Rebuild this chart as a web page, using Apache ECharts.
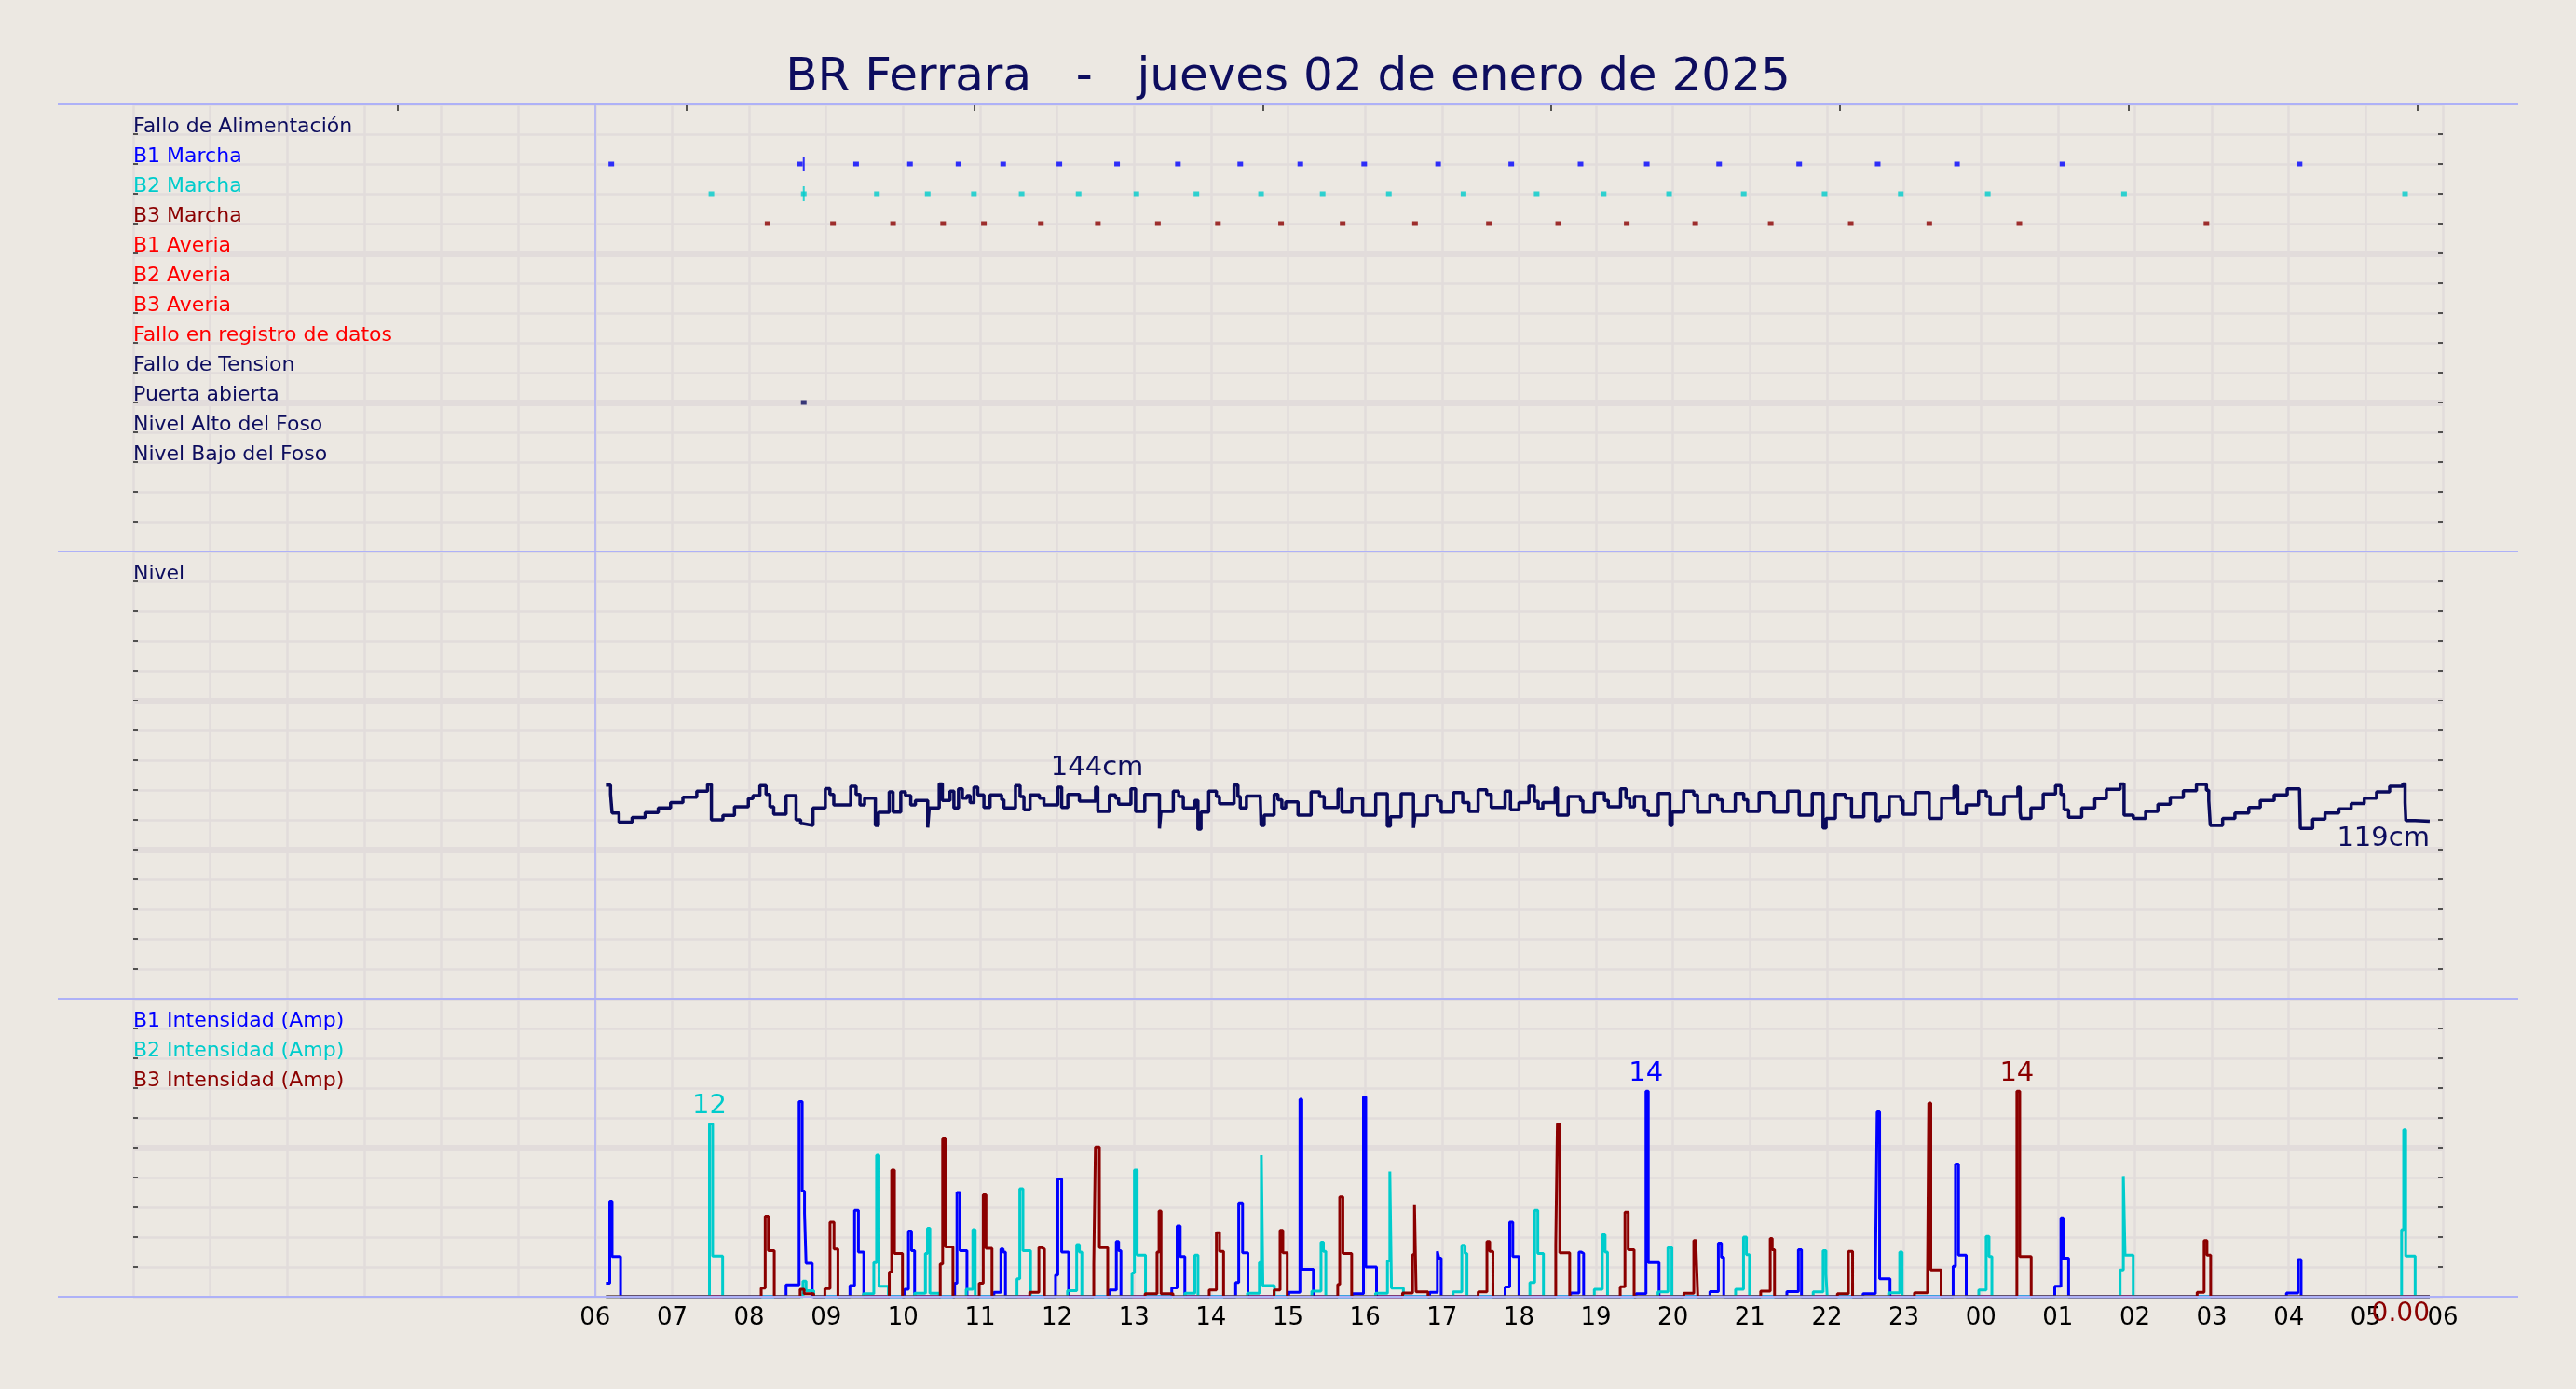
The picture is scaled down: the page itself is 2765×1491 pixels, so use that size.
<!DOCTYPE html>
<html>
<head>
<meta charset="utf-8">
<title>BR Ferrara</title>
<script src="https://cdn.jsdelivr.net/npm/echarts@6/dist/echarts.min.js"></script>
<style>
  html, body { margin: 0; padding: 0; background: #ece8e2; }
  #chart { width: 2765px; height: 1491px; }
</style>
</head>
<body>
<div id="chart"></div>
<script type="text/javascript">
// horas desde las 00:00 del dia 02
var dataStartHour = 6;
var hourLabels = ['06','07','08','09','10','11','12','13','14','15','16','17','18','19','20','21','22','23','00','01','02','03','04','05','06'];
var topTickHours = [3.43, 7.18, 10.93, 14.68, 18.42, 22.17, 25.92, 29.67];

var statusLabels = ['Fallo de Alimentación', 'B1 Marcha', 'B2 Marcha', 'B3 Marcha', 'B1 Averia', 'B2 Averia', 'B3 Averia',
  'Fallo en registro de datos', 'Fallo de Tension', 'Puerta abierta', 'Nivel Alto del Foso', 'Nivel Bajo del Foso'];
var statusColors = ['#0d0d5e', '#0000ff', '#00cccc', '#8b0000', '#ff0000', '#ff0000', '#ff0000',
  '#ff0000', '#0d0d5e', '#0d0d5e', '#0d0d5e', '#0d0d5e'];

var marchaB1 = [6.21, 8.66, 9.39, 10.09, 10.72, 11.30, 12.03, 12.78, 13.57, 14.38, 15.16, 15.99, 16.95, 17.90, 18.80, 19.66, 20.60, 21.64, 22.66, 23.69, 25.06, 28.14];
var marchaB2 = [7.51, 8.71, 9.66, 10.32, 10.92, 11.54, 12.28, 13.03, 13.81, 14.65, 15.45, 16.31, 17.28, 18.23, 19.10, 19.95, 20.92, 21.97, 22.96, 24.09, 25.86, 29.51];
var marchaB3 = [8.24, 9.09, 9.87, 10.52, 11.05, 11.79, 12.53, 13.31, 14.09, 14.91, 15.71, 16.65, 17.61, 18.51, 19.40, 20.29, 21.27, 22.31, 23.33, 24.50, 26.93];
var marchaCambio = [8.71];
var puertaAbierta = [8.71];

var nivelLabelHour = 12.52;
var nivel = [
  [6.14,143.3],[6.20,137.1],[6.22,124.6],[6.31,118.5],[6.48,121.5],[6.65,124.8],[6.82,127.9],[6.98,131.5],[7.14,135.2],[7.32,139.2],
  [7.46,143.8],[7.51,120.0],[7.66,122.9],[7.81,128.8],[7.99,134.2],[8.05,136.3],[8.14,142.9],[8.22,137.1],[8.27,128.8],[8.32,123.8],
  [8.48,136.3],[8.61,120.0],[8.67,117.5],[8.70,116.3],[8.83,127.9],[8.99,141.0],[9.05,137.1],[9.10,130.0],[9.32,142.5],[9.39,137.1],
  [9.44,130.0],[9.50,134.6],[9.64,116.3],[9.68,125.0],[9.82,138.8],[9.87,125.2],[9.97,138.8],[10.03,136.3],[10.10,130.0],[10.16,132.9],
  [10.32,114.8],[10.34,127.9],[10.47,144.0],[10.51,132.9],[10.61,139.2],[10.66,127.9],[10.72,140.8],[10.77,134.6],[10.83,136.3],[10.87,131.5],
  [10.92,141.9],[10.97,136.7],[11.05,128.3],[11.13,136.7],[11.28,133.5],[11.31,127.9],[11.46,142.9],[11.52,135.6],[11.57,126.7],[11.65,136.7],
  [11.77,134.6],[11.83,130.0],[12.01,141.9],[12.06,128.3],[12.14,137.1],[12.29,132.5],[12.50,141.9],[12.53,125.6],[12.68,136.7],[12.76,134.6],
  [12.80,130.4],[12.96,140.8],[13.02,125.6],[13.14,137.1],[13.33,114.2],[13.35,125.6],[13.51,139.2],[13.58,135.6],[13.64,127.9],[13.79,132.9],
  [13.83,113.8],[13.87,125.2],[13.97,139.2],[14.07,135.6],[14.11,130.8],[14.30,143.3],[14.35,135.6],[14.38,127.9],[14.46,136.0],[14.64,134.6],
  [14.65,116.3],[14.69,123.1],[14.82,137.1],[14.87,133.5],[14.92,127.9],[14.97,132.1],[15.13,123.1],[15.30,138.8],[15.41,135.6],[15.47,128.3],
  [15.65,140.4],[15.70,125.2],[15.83,134.6],[15.97,123.1],[16.14,137.5],[16.29,115.8],[16.33,122.1],[16.47,137.5],[16.63,114.6],[16.65,123.1],
  [16.81,136.3],[16.94,132.5],[16.99,125.2],[17.15,138.3],[17.27,131.5],[17.35,125.6],[17.47,140.2],[17.58,137.1],[17.64,128.3],[17.82,139.2],
  [17.89,126.7],[18.00,131.5],[18.13,142.5],[18.20,132.5],[18.25,127.3],[18.31,131.5],[18.47,141.3],[18.50,123.1],[18.64,135.6],[18.80,132.9],
  [18.83,125.2],[18.98,137.9],[19.11,132.9],[19.16,128.8],[19.32,140.8],[19.39,134.6],[19.44,128.8],[19.50,135.6],[19.63,126.3],[19.68,123.1],
  [19.81,137.7],[19.96,116.3],[19.99,125.2],[20.14,139.2],[20.27,136.7],[20.32,125.2],[20.48,136.7],[20.58,133.5],[20.64,125.6],[20.81,137.7],
  [20.92,133.5],[20.97,125.6],[21.12,138.3],[21.28,136.7],[21.31,125.2],[21.49,139.2],[21.64,123.1],[21.81,137.7],[21.95,114.5],[21.99,121.0],
  [22.11,137.1],[22.24,134.6],[22.32,122.1],[22.48,137.7],[22.64,119.6],[22.69,122.1],[22.81,135.6],[22.96,132.9],[22.99,123.8],[23.15,138.3],
  [23.33,121.0],[23.49,134.6],[23.65,142.5],[23.70,124.2],[23.81,130.0],[23.97,139.2],[24.07,135.6],[24.12,123.8],[24.30,135.6],[24.48,141.9],
  [24.51,125.2],[24.52,121.0],[24.65,127.9],[24.81,137.3],[24.97,142.9],[25.04,137.1],[25.08,126.7],[25.14,121.7],[25.31,127.9],[25.48,134.2],
  [25.63,140.4],[25.81,144.0],[25.86,123.1],[25.98,121.0],[26.14,125.6],[26.30,130.4],[26.46,135.0],[26.63,139.6],[26.80,143.8],[26.93,139.8],
  [26.96,132.9],[26.98,116.3],[27.14,121.0],[27.30,124.6],[27.48,128.3],[27.63,132.9],[27.81,136.7],[27.98,140.8],[28.14,138.8],[28.15,114.2],
  [28.31,120.4],[28.47,124.6],[28.65,127.3],[28.81,131.0],[28.98,134.6],[29.14,138.8],[29.31,142.5],[29.48,144.0],[29.51,131.5],[29.52,119.6],
  [29.64,119.0],[29.83,119.0]
];

var intensidadB1 = [
  [6.14,0.9],[6.19,6.4],[6.22,2.7],[6.33,0],
  [8.48,0.8],[8.65,13.1],[8.69,7.1],[8.72,5.6],[8.74,2.25],[8.82,0],
  [9.31,0.75],[9.37,5.8],[9.42,3.0],[9.49,0],
  [10.02,0.5],[10.07,4.4],[10.11,3.1],[10.15,0],
  [10.67,0.9],[10.70,7.0],[10.74,3.1],[10.83,0],
  [11.18,0.3],[11.27,3.2],[11.30,3.0],[11.33,0],
  [11.98,1.45],[12.01,7.9],[12.06,3.0],[12.15,0],
  [12.68,0.45],[12.77,3.7],[12.80,3.1],[12.83,0],
  [13.49,0.6],[13.56,4.75],[13.60,2.7],[13.66,0],
  [14.32,0.95],[14.36,6.3],[14.41,2.95],[14.48,0],
  [15.01,0.3],[15.155,13.25],[15.18,1.85],[15.33,0],
  [15.84,0.2],[15.98,13.4],[16.01,2.0],[16.15,0],
  [16.84,0.3],[16.94,3.05],[16.96,2.6],[16.99,0],
  [17.82,0.65],[17.88,5.0],[17.92,2.7],[18.0,0],
  [18.67,0.25],[18.78,3.0],[18.81,2.9],[18.84,0],
  [19.52,0.2],[19.65,13.8],[19.68,2.3],[19.82,0],
  [20.48,0.35],[20.59,3.6],[20.63,2.65],[20.66,0],
  [21.48,0.35],[21.63,3.15],[21.67,0],
  [22.47,0.2],[22.63,1.6],[22.653,12.4],[22.685,1.2],[22.82,0],
  [23.64,2.05],[23.67,8.9],[23.71,2.8],[23.81,0],
  [24.96,0.7],[25.04,5.3],[25.07,2.6],[25.14,0],
  [27.97,0.25],[28.12,2.5],[28.16,0],
  [29.83,0]
];
var intensidadB2 = [
  [6.14,0],
  [7.485,11.6],[7.526,2.73],[7.656,0],
  [8.70,1.05],[8.74,0.4],[8.84,0],
  [9.485,0.2],[9.62,2.3],[9.656,9.5],[9.687,0.7],[9.81,0],
  [10.15,0.23],[10.29,2.9],[10.317,4.6],[10.348,0.23],[10.47,0],
  [10.82,0.5],[10.906,4.5],[10.937,0],
  [11.48,1.2],[11.516,7.25],[11.557,3.1],[11.656,0],
  [12.136,0.4],[12.255,3.5],[12.29,3.0],[12.322,0],
  [12.974,1.6],[13.005,8.5],[13.041,2.8],[13.149,0],
  [13.661,0.23],[13.79,2.8],[13.831,0],
  [14.473,0.23],[14.628,2.3],[14.654,9.5],[14.674,0.75],[14.824,0],
  [15.31,0.37],[15.429,3.65],[15.46,3.05],[15.491,0],
  [16.137,0.23],[16.292,2.4],[16.323,8.4],[16.344,0.58],[16.499,0],
  [17.145,0.33],[17.258,3.45],[17.30,2.9],[17.325,0],
  [18.142,0.96],[18.204,5.8],[18.245,2.9],[18.318,0],
  [18.979,0.5],[19.083,4.15],[19.119,3.0],[19.15,0],
  [19.806,0.33],[19.935,3.3],[19.987,0],
  [20.814,0.5],[20.917,4.0],[20.955,2.83],[20.995,0],
  [21.822,0.33],[21.951,3.1],[21.988,1.5],[22.004,0],
  [22.802,0.27],[22.946,3.0],[22.978,0],
  [23.973,0.45],[24.069,4.05],[24.106,2.7],[24.143,0],
  [25.809,1.8],[25.851,8.1],[25.873,2.8],[25.979,0],
  [29.465,4.5],[29.492,11.2],[29.518,2.73],[29.641,0],
  [29.83,0]
];
var intensidadB3 = [
  [6.14,0],
  [8.157,0.58],[8.209,5.4],[8.25,3.1],[8.327,0],
  [8.663,0.5],[8.715,0.2],[8.839,0],
  [8.984,0.54],[9.051,5.0],[9.103,3.2],[9.154,0],
  [9.821,1.65],[9.852,8.5],[9.888,2.9],[9.992,0],
  [10.483,2.2],[10.514,10.6],[10.55,3.35],[10.648,0],
  [10.989,0.9],[11.041,6.85],[11.077,3.25],[11.155,0],
  [11.645,0.3],[11.764,3.3],[11.80,3.2],[11.837,0],
  [12.477,2.2],[12.498,10.05],[12.55,3.3],[12.658,0],
  [13.144,0.2],[13.299,3.0],[13.325,5.75],[13.351,0.2],[13.506,0],
  [13.977,0.45],[14.07,4.3],[14.111,3.05],[14.163,0],
  [14.819,0.45],[14.897,4.45],[14.933,2.95],[14.99,0],
  [15.646,0.83],[15.672,6.7],[15.713,2.9],[15.827,0],
  [16.488,0.25],[16.618,2.83],[16.643,6.2],[16.664,0.33],[16.819,0],
  [17.47,0.33],[17.584,3.7],[17.62,3.05],[17.662,0],
  [18.478,3.5],[18.499,11.6],[18.53,2.95],[18.659,0],
  [19.315,0.67],[19.377,5.67],[19.419,3.15],[19.496,0],
  [20.142,0.23],[20.271,3.77],[20.30,3.2],[20.323,0],
  [21.14,0.37],[21.264,3.9],[21.29,3.15],[21.32,0],
  [22.137,0.2],[22.28,3.05],[22.334,0],
  [23.137,0.27],[23.307,1.4],[23.323,13.0],[23.35,1.8],[23.483,0],
  [24.468,13.8],[24.505,2.7],[24.654,0],
  [26.809,0.3],[26.9,3.77],[26.937,2.8],[26.985,0],
  [29.83,0]
];

var navy = '#0d0d5e';
var gridColor = '#e2dcdb';
var sepColor = '#aeb1f7';
var font = 'DejaVu Sans';

function rowOf(name) { return 14 - statusLabels.indexOf(name); }
function onRow(hours, name) { return hours.map(function (h) { return [h, rowOf(name)]; }); }

var nivelMax = Math.max.apply(null, nivel.map(function (p) { return p[1]; }));
var nivelLast = nivel[nivel.length - 1];
var b3Last = intensidadB3[intensidadB3.length - 1];

var chart = echarts.init(document.getElementById('chart'));

function hourAxis(gridIndex, showLabels) {
  return {
    type: 'value', gridIndex: gridIndex, min: 0, max: 30, interval: 1, position: 'bottom',
    axisLine: {show: false, onZero: false}, axisTick: {show: false},
    axisLabel: showLabels ? {
      show: true, margin: 10, fontSize: 26, fontFamily: font, color: '#000', showMaxLabel: true,
      formatter: function (v) { return v >= dataStartHour ? hourLabels[v - dataStartHour] : ''; }
    } : {show: false},
    splitLine: {show: true, lineStyle: {color: gridColor, width: 2.5}}
  };
}

function leftAxis(gridIndex, max, interval, labelFn, colorFn) {
  return {
    type: 'value', gridIndex: gridIndex, min: 0, max: max, interval: interval, position: 'left',
    axisLine: {show: false, onZero: false},
    axisTick: {show: true, inside: true, length: 5, lineStyle: {color: '#222', width: 1.5}},
    axisLabel: {
      show: true, inside: true, margin: 0, fontSize: 22, fontFamily: font,
      verticalAlign: 'bottom', lineHeight: 15,
      formatter: labelFn, color: colorFn
    },
    splitLine: {show: true, lineStyle: {color: gridColor, width: 2.5}}
  };
}

function rightAxis(gridIndex, max, interval) {
  return {
    type: 'value', gridIndex: gridIndex, min: 0, max: max, interval: interval, position: 'right',
    axisLine: {show: false, onZero: false},
    axisTick: {show: true, inside: true, length: 5, lineStyle: {color: '#222', width: 1.5}},
    minorTick: {show: true, splitNumber: 5, length: 5, lineStyle: {color: '#222', width: 1.5}},
    axisLabel: {show: false},
    splitLine: {show: true, showMinLine: false, showMaxLine: false, lineStyle: {color: gridColor, width: 7}}
  };
}

var startLine = {
  silent: true, symbol: ['none', 'none'], label: {show: false},
  lineStyle: {color: sepColor, width: 1.5, type: 'solid'},
  data: [{xAxis: dataStartHour}]
};

function marcha(name, hours, color) {
  return {
    type: 'scatter', name: name, xAxisIndex: 0, yAxisIndex: 0,
    symbol: 'rect', symbolSize: [6, 5], itemStyle: {color: color},
    data: onRow(hours, name)
  };
}

function intensidad(name, data, color) {
  return {
    type: 'line', name: name, xAxisIndex: 3, yAxisIndex: 4, step: 'end',
    symbol: 'none', lineStyle: {color: color, width: 3}, itemStyle: {color: color},
    data: data,
    markPoint: {
      symbol: 'circle', symbolSize: 1, itemStyle: {color: 'transparent'},
      label: {show: true, position: 'top', distance: 4, fontSize: 29, fontFamily: font, color: color,
        formatter: function (p) { return Math.round(p.value); }},
      data: [{type: 'max'}]
    }
  };
}

var seps = [112, 592, 1072, 1392].map(function (y) {
  return {type: 'line', z: 100, shape: {x1: 62, y1: y, x2: 2703, y2: y}, style: {stroke: sepColor, lineWidth: 2}};
});

var option = {
  animation: false,
  backgroundColor: '#ece8e2',
  title: {
    text: 'BR Ferrara   -   jueves 02 de enero de 2025',
    left: 'center', top: 54,
    textStyle: {fontSize: 50, fontWeight: 'normal', fontFamily: font, color: navy}
  },
  grid: [
    {left: 143, right: 143, top: 112, height: 480},
    {left: 143, right: 143, top: 592, height: 480},
    {left: 143, right: 143, top: 1072, height: 320}
  ],
  xAxis: [
    hourAxis(0, false),
    {
      type: 'value', gridIndex: 0, min: 0, max: 30, position: 'top',
      axisLine: {show: false, onZero: false}, axisLabel: {show: false}, splitLine: {show: false},
      axisTick: {show: true, inside: true, length: 7, customValues: topTickHours, lineStyle: {color: '#222', width: 1.5}}
    },
    hourAxis(1, false),
    hourAxis(2, true)
  ],
  yAxis: [
    leftAxis(0, 15, 1,
      function (v) { return statusLabels[14 - v] || ''; },
      function (v) { return statusColors[14 - (+v)] || navy; }),
    rightAxis(0, 15, 5),
    leftAxis(1, 300, 20,
      function (v) { return v === 280 ? 'Nivel' : ''; },
      function () { return navy; }),
    rightAxis(1, 300, 100),
    leftAxis(2, 20, 2,
      function (v) { return {18: 'B1 Intensidad (Amp)', 16: 'B2 Intensidad (Amp)', 14: 'B3 Intensidad (Amp)'}[v] || ''; },
      function (v) { return {18: '#0000ff', 16: '#00cccc', 14: '#8b0000'}[+v] || navy; }),
    rightAxis(2, 20, 10)
  ],
  graphic: seps,
  series: [
    (function () { var s = marcha('B1 Marcha', marchaB1, '#0000ff'); s.markLine = startLine; return s; })(),
    marcha('B2 Marcha', marchaB2, '#00cccc'),
    marcha('B3 Marcha', marchaB3, '#8b0000'),
    {
      type: 'scatter', xAxisIndex: 0, yAxisIndex: 0, symbol: 'rect', symbolSize: [2, 16],
      itemStyle: {color: '#0000ff'}, data: onRow(marchaCambio, 'B1 Marcha')
    },
    {
      type: 'scatter', xAxisIndex: 0, yAxisIndex: 0, symbol: 'rect', symbolSize: [2, 16],
      itemStyle: {color: '#00cccc'}, data: onRow(marchaCambio, 'B2 Marcha')
    },
    marcha('Puerta abierta', puertaAbierta, navy),
    {
      type: 'line', name: 'Nivel', xAxisIndex: 2, yAxisIndex: 2, step: 'end',
      symbol: 'none', lineStyle: {color: '#0a0a5c', width: 3.5}, itemStyle: {color: '#0a0a5c'},
      data: nivel,
      markLine: startLine,
      markPoint: {
        symbol: 'circle', symbolSize: 1, itemStyle: {color: 'transparent'},
        label: {show: true, fontSize: 29, fontFamily: font, color: navy},
        data: [
          {coord: [nivelLabelHour, nivelMax], label: {position: 'top', distance: 2, formatter: Math.round(nivelMax) + 'cm'}},
          {coord: nivelLast, label: {position: 'bottom', distance: 4, align: 'right', formatter: Math.round(nivelLast[1]) + 'cm'}}
        ]
      }
    },
    (function () { var s = intensidad('B1 Intensidad', intensidadB1, '#0000ff'); s.markLine = startLine; return s; })(),
    intensidad('B2 Intensidad', intensidadB2, '#00cccc'),
    (function () {
      var s = intensidad('B3 Intensidad', intensidadB3, '#8b0000');
      s.markPoint.data.push({coord: b3Last, label: {position: 'bottom', distance: 4, align: 'right', fontSize: 28,
        formatter: b3Last[1].toFixed(2)}});
      return s;
    })()
  ]
};

chart.setOption(option);
</script>
</body>
</html>
